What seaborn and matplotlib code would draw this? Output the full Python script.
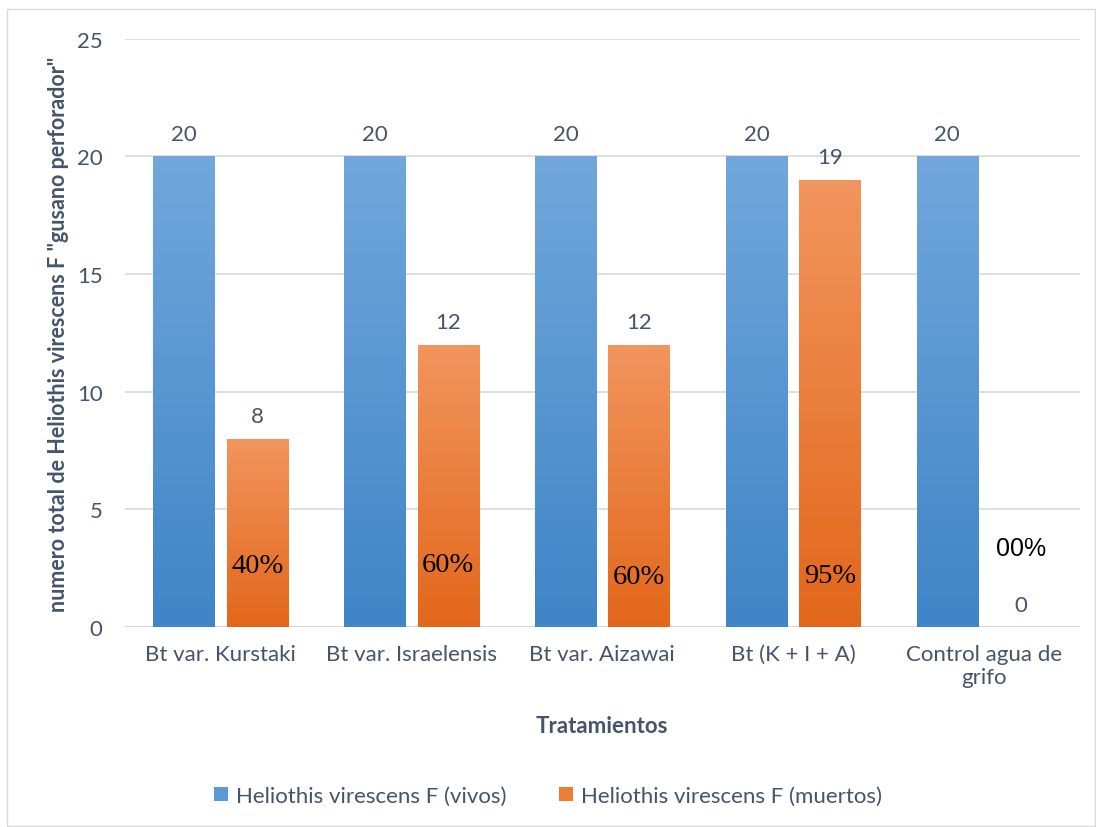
import numpy as np
import pandas as pd
import matplotlib
matplotlib.use("Agg")
import matplotlib.pyplot as plt
import seaborn as sns
from matplotlib.patches import Patch, Rectangle
from matplotlib.colors import LinearSegmentedColormap

categories = ["Bt var. Kurstaki", "Bt var. Israelensis", "Bt var. Aizawai",
              "Bt (K + I + A)", "Control agua de\ngrifo"]
vivos = [20, 20, 20, 20, 20]
muertos = [8, 12, 12, 19, 0]
series_names = ["Heliothis virescens F (vivos)", "Heliothis virescens F (muertos)"]
pct_labels = ["40%", "60%", "60%", "95%", "00%"]
pct_y = [2.6, 2.65, 2.15, 2.2, 3.35]

sns.set_theme(style="white")
plt.rcParams['font.family'] = ['Lato', 'DejaVu Sans']
txt = "#44546A"
fs = 16

df = pd.DataFrame({
    "cat": categories * 2,
    "serie": [series_names[0]] * 5 + [series_names[1]] * 5,
    "val": vivos + muertos,
})

blue_mid, orange_mid = "#5B9BD5", "#ED7D31"
fig = plt.figure(figsize=(10.96, 8.28), dpi=100)
ax = fig.add_axes([0.114, 0.2415, 0.871, 0.7105])
sns.barplot(data=df, x="cat", y="val", hue="serie", palette=[blue_mid, orange_mid],
            width=0.77, gap=0.17, ax=ax, legend=False, linewidth=0, saturation=1)

ax.set_ylim(0, 25)
ax.set_xlim(-0.5, 4.5)
ax.set_yticks([0, 5, 10, 15, 20, 25])
ax.yaxis.grid(True, color="#D9D9D9", linewidth=1.2)
ax.set_axisbelow(True)
for s in ax.spines.values():
    s.set_visible(False)
ax.axhline(0, color="#D9D9D9", linewidth=1.5, zorder=0.5)
ax.tick_params(axis="both", length=0, labelsize=fs, colors=txt)
ax.tick_params(axis="y", pad=16)
ax.tick_params(axis="x", pad=12)
ax.set_xlabel("Tratamientos", fontsize=fs, fontweight="bold", color=txt, labelpad=20)
ax.set_ylabel('numero total de Heliothis virescens F "gusano perforador"', fontsize=15.5,
              fontweight="bold", color=txt, labelpad=6)

# gradients
cmaps = [LinearSegmentedColormap.from_list("b", ["#3F85C7", "#71A7DC"]),
         LinearSegmentedColormap.from_list("o", ["#E2671A", "#F2955E"])]
for ci, cont in enumerate(ax.containers):
    for p in cont.patches:
        h = p.get_height()
        if h <= 0:
            continue
        x0, w = p.get_x(), p.get_width()
        grad = np.linspace(0, 1, 256).reshape(-1, 1)
        im = ax.imshow(grad, cmap=cmaps[ci], origin="lower", aspect="auto",
                       extent=[x0, x0 + w, 0, h], zorder=p.get_zorder() + 0.1)
        im.set_clip_path(p)
    ax.bar_label(cont, fmt="%d", padding=9, fontsize=fs, color=txt)
ax.set_xlim(-0.5, 4.5)
ax.set_ylim(0, 25)

# percentage annotations on orange bars
for i, (lab, y) in enumerate(zip(pct_labels, pct_y)):
    xo = i + 0.77 / 4
    if i < 4:
        ax.text(xo, y, lab, ha="center", va="center", fontsize=20.5,
                family="Liberation Serif", color="black", zorder=5)
    else:
        ax.text(xo, y, lab, ha="center", va="center", fontsize=18,
                family="Liberation Sans", color="black", zorder=5)

handles = [Patch(facecolor=blue_mid, edgecolor="none"), Patch(facecolor=orange_mid, edgecolor="none")]
fig.legend(handles, series_names, loc="center", bbox_to_anchor=(0.5, 0.038), ncol=2,
           frameon=False, fontsize=fs, labelcolor=txt, handlelength=0.6, handleheight=0.6,
           handletextpad=0.35, columnspacing=2.4)

fig.patches.append(Rectangle((7 / 1096, 0.001), 1 - 7 / 1096 - 0.001, 1 - 10 / 828 - 0.001,
                             transform=fig.transFigure, fill=False, edgecolor="#D9D9D9",
                             linewidth=1))
fig.savefig("out.png", dpi=100)
